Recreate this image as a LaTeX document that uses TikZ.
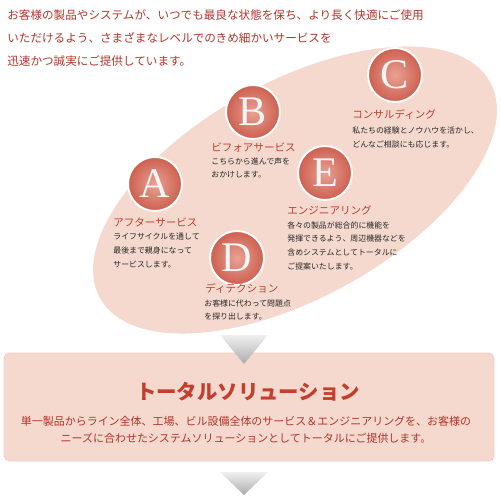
\documentclass[tikz,border=0pt]{standalone}
\usepackage{fontspec}
\newfontfamily\jp{Noto Sans CJK JP}
\newfontfamily\capfont{Liberation Serif}
\definecolor{pinkbg}{HTML}{F6D9CE}
\definecolor{redtxt}{HTML}{B2342A}
\definecolor{titlered}{HTML}{C23E2D}
\definecolor{desctxt}{HTML}{262626}
\definecolor{ballin}{HTML}{E8A294}
\definecolor{ballmid}{HTML}{CE6252}
\definecolor{ballout}{HTML}{AE2C25}
\pgfdeclareradialshading{ballred}{\pgfpoint{0bp}{0bp}}{color(0bp)=(ballin); color(24bp)=(ballmid); color(43bp)=(ballout); color(50bp)=(ballout)}
\begin{document}
\begin{tikzpicture}[x=0.02cm, y=-0.02cm,
    letterball/.style={circle, minimum size=1.08cm, inner sep=0, draw=white, line width=1.1pt,
      shading=ballred, text=white!92!gray, font=\capfont\fontsize{24}{24}\selectfont},
    svname/.style={anchor=west, inner sep=0, text=titlered, font=\jp\fontsize{6}{6}\selectfont},
    svnote/.style={anchor=north west, inner sep=0, align=left, text=desctxt,
      font=\jp\fontsize{4.5}{7.9}\selectfont}]
  \useasboundingbox (0,0) rectangle (500,500);
  \fill[pinkbg, rotate around={29:(295,190)}] (295,190) ellipse [x radius=4.46cm, y radius=2.16cm];
  \node[anchor=north west, inner sep=0, align=left, text=redtxt, font=\jp\fontsize{6.6}{13.1}\selectfont] (intro) at (7,9)
    {お客様の製品やシステムが、いつでも最良な状態を保ち、より長く快適にご使用\\
     いただけるよう、さまざまなレベルでのきめ細かいサービスを\\
     迅速かつ誠実にご提供しています。};

  \node[letterball] (a) at (155,184) {A};
  \node[letterball] (b) at (253,112) {B};
  \node[letterball] (c) at (395,75) {C};
  \node[letterball] (e) at (325,173) {E};
  \node[letterball] (d) at (237,258) {D};

  \node[svname] (aname) at (113,222) {アフターサービス};
  \node[svnote] (anote) at (113,233) {ライフサイクルを通して\\最後まで親身になって\\サービスします。};
  \node[svname] (bname) at (211,147) {ビフォアサービス};
  \node[svnote] (bnote) at (211,157) {こちらから進んで声を\\おかけします。};
  \node[svname] (cname) at (352,114) {コンサルディング};
  \node[svnote] (cnote) at (352,127) {私たちの経験とノウハウを活かし、\\どんなご相談にも応じます。};
  \node[svname] (ename) at (287,210) {エンジニアリング};
  \node[svnote] (enote) at (287,221) {各々の製品が総合的に機能を\\発揮できるよう、周辺機器などを\\含めシステムとしてトータルに\\ご提案いたします。};
  \node[svname] (dname) at (205,288) {ディテクション};
  \node[svnote] (dnote) at (204,299) {お客様に代わって問題点\\を探り出します。};

  \node[fill=pinkbg, draw=pinkbg!92!red, rounded corners=3pt, minimum width=9.8cm, minimum height=2.16cm] (total) at (249,407) {};
  \shade[top color=gray!12, bottom color=gray!65] (220,335) -- (268,335) -- (244,364) -- cycle;
  \shade[top color=gray!12, bottom color=gray!65] (220,472) -- (268,472) -- (244,495) -- cycle;
  \node[text=titlered, font=\jp\bfseries\fontsize{11.6}{11.6}\selectfont] (ttitle) at (248,392) {トータルソリューション};
  \node[anchor=north, align=center, inner sep=0, text=redtxt, font=\jp\fontsize{6.25}{9.6}\selectfont] (tbody) at (246,416)
    {単一製品からライン全体、工場、ビル設備全体のサービス＆エンジニアリングを、お客様の\\
     ニーズに合わせたシステムソリューションとしてトータルにご提供します。};
\end{tikzpicture}
\end{document}
